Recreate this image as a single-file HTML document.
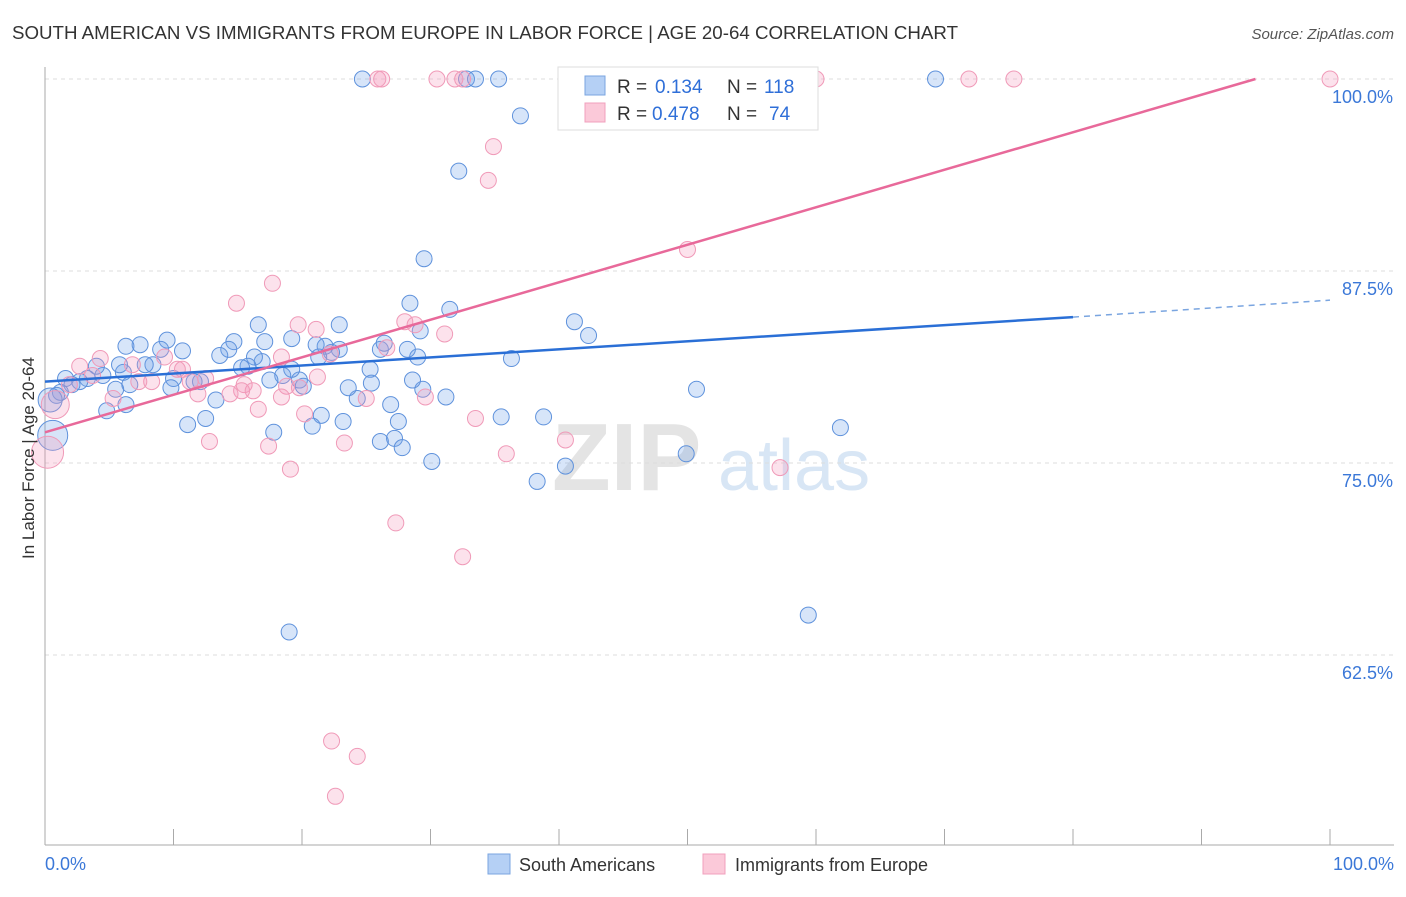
<!DOCTYPE html>
<html><head><meta charset="utf-8">
<style>
body{margin:0;background:#fff;font-family:"Liberation Sans",sans-serif}
svg text{font-family:"Liberation Sans",sans-serif}
</style></head>
<body>
<svg id="chart" width="1406" height="892" xmlns="http://www.w3.org/2000/svg">
<text x="12" y="39" font-size="18" fill="#333" textLength="946" lengthAdjust="spacingAndGlyphs">SOUTH AMERICAN VS IMMIGRANTS FROM EUROPE IN LABOR FORCE | AGE 20-64 CORRELATION CHART</text>
<text x="1394" y="39" font-size="15" fill="#555" text-anchor="end" font-style="italic">Source: ZipAtlas.com</text>
<g>
<text x="552" y="490" font-size="96" fill="#e4e4e4" font-family="Liberation Serif" font-weight="bold">ZIP</text>
<text x="718" y="490" font-size="72" fill="#d8e6f5">atlas</text>
</g>
<g id="grid"></g>
<g id="axes"></g>
<g id="points"></g>
<g id="lines"></g>
<text transform="translate(34,458) rotate(-90)" font-size="17" fill="#333" text-anchor="middle">In Labor Force | Age 20-64</text>
<g>
<rect x="558" y="67" width="260" height="63" fill="#fff" stroke="#ddd"/>
<rect x="585" y="76" width="20" height="19" fill="#b5d0f5" stroke="#7aa5e0"/>
<rect x="585" y="103" width="20" height="19" fill="#fbc9d9" stroke="#f0a0bd"/>
<text x="617" y="93" font-size="19" fill="#333">R =</text>
<text x="655" y="93" font-size="19" fill="#2f6fd8">0.134</text>
<text x="727" y="93" font-size="19" fill="#333">N =</text>
<text x="764" y="93" font-size="19" fill="#2f6fd8">118</text>
<text x="617" y="120" font-size="19" fill="#333">R =</text>
<text x="652" y="120" font-size="19" fill="#2f6fd8">0.478</text>
<text x="727" y="120" font-size="19" fill="#333">N =</text>
<text x="769" y="120" font-size="19" fill="#2f6fd8">74</text>
</g>
<g>
<rect x="488" y="854" width="22" height="20" fill="#b5d0f5" stroke="#7aa5e0"/>
<text x="519" y="871" font-size="18" fill="#333">South Americans</text>
<rect x="703" y="854" width="22" height="20" fill="#fbc9d9" stroke="#f0a0bd"/>
<text x="735" y="871" font-size="18" fill="#333">Immigrants from Europe</text>
</g>
</svg>
<script>
const yTicks=[100,87.5,75,62.5];
const yTickLabels=["100.0%","87.5%","75.0%","62.5%"];
const xTicks=[0,10,20,30,40,50,60,70,80,90,100];
const blueX=[24.7,32.8,33.5,35.3,69.3,37,32.2,29.5,28.4,31.5,41.2,42.3,36.3,50.7,61.9,59.4,19,49.9,40.5,38.3,30.1,38.8,35.5,31.2,29.4,28.6,29,28.2,26.1,27.2,27.8,27.5,26.9,25.3,25.4,24.3,23.6,23.2,21.5,20.8,22.9,22.9,22.3,21.8,21.3,19.8,20.1,19.2,18.5,17.5,17.8,19.2,17.1,16.6,16.9,16.3,15.8,15.3,14.7,14.3,13.6,13.3,12.5,12.1,11.6,11.1,10.7,10,9.8,9.5,9,8.4,7.8,7.4,6.3,6.1,6.6,5.8,5.5,4.8,6.3,4.5,4,3.3,2.7,2.1,1.6,1.2,0.9,0.6,0.4,29.2,26.1,26.4,21.1];
const blueY=[100,100,100,100,100,97.6,94,88.3,85.4,85,84.2,83.3,81.8,79.8,77.3,65.1,64,75.6,74.8,73.8,75.1,78,78,79.3,79.8,80.4,81.9,82.4,76.4,76.6,76,77.7,78.8,81.1,80.2,79.2,79.9,77.7,78.1,77.4,84,82.4,82.2,82.6,81.9,80.4,80,81.1,80.7,80.4,77,83.1,82.9,84,81.6,81.9,81.3,81.2,82.9,82.4,82,79.1,77.9,80.3,80.3,77.5,82.3,80.5,79.9,83,82.4,81.4,81.4,82.7,82.6,80.9,80.1,81.4,79.8,78.4,78.8,80.7,81.3,80.5,80.3,80.1,80.5,79.6,79.4,76.8,79.1,83.6,82.4,82.8,82.7];
const blueSize=blueX.map((v,i)=>i===89?15:(i===90?12:8));
const pinkX=[25.9,26.2,30.5,31.9,32.5,60,71.9,75.4,100,34.9,34.5,50,17.7,14.9,19.7,21.1,28,28.8,31.1,26.6,22.2,18.4,21.2,19.8,18.8,15.5,16.2,15.3,14.4,12.5,11.9,11.3,8.3,7.3,9.3,10.7,6.8,4.3,2.7,1.9,0.8,0.2,16.6,18.4,20.2,12.8,17.4,23.3,25,29.6,33.5,35.9,40.5,57.2,19.1,27.3,32.5,22.3,24.3,22.6,5.3,3.7,10.3];
const pinkY=[100,100,100,100,100,100,100,100,100,95.6,93.4,88.9,86.7,85.4,84,83.7,84.2,84,83.4,82.5,82.1,81.9,80.6,79.9,80,80.1,79.7,79.7,79.5,80.5,79.5,80.3,80.3,80.3,81.9,81.1,81.4,81.8,81.3,80.1,78.8,75.7,78.5,79.3,78.2,76.4,76.1,76.3,79.2,79.3,77.9,75.6,76.5,74.7,74.6,71.1,68.9,56.9,55.9,53.3,79.2,80.7,81.1];
const pinkSize=pinkX.map((v,i)=>i===40?14:(i===41?16:8));
const blueTrend=[[0,80.3],[80,84.5]];
const blueTrendExt=[[80,84.5],[100,85.6]];
const pinkTrend=[[0,77],[94.2,100]];
const NS="http://www.w3.org/2000/svg";
const X=v=>45+v*12.85;
const Y=v=>79+(100-v)*15.36;
function mk(tag,attrs,parent){const e=document.createElementNS(NS,tag);for(const k in attrs)e.setAttribute(k,attrs[k]);document.getElementById(parent).appendChild(e);return e;}
yTicks.forEach((t,i)=>{
 const g=mk('line',{x1:45,x2:1394,y1:Y(t),y2:Y(t),stroke:'#ddd','stroke-dasharray':'4,4'},'grid');
 
 
 const l=mk('text',{x:1393,y:Y(t)+24,'font-size':18,fill:'#3b78d8','text-anchor':'end'},'axes');
 l.textContent=yTickLabels[i];
 
 
});
const ax=mk('line',{x1:45,x2:1394,y1:845,y2:845,stroke:'#aaa'},'axes');


const ay=mk('line',{x1:45,x2:45,y1:67,y2:845,stroke:'#aaa'},'axes');


xTicks.forEach(t=>{
 const e=mk('line',{x1:X(t),x2:X(t),y1:829,y2:845,stroke:'#aaa'},'axes');
 
 
});
[[0,'0.0%',45,'start'],[100,'100.0%',1394,'end']].forEach(a=>{
 const e=mk('text',{x:a[2],y:870,'font-size':18,fill:'#3b78d8','text-anchor':a[3]},'axes');
 e.textContent=a[1];
 
 
});
blueX.forEach((v,i)=>{
 const c=mk('circle',{cx:X(v),cy:Y(blueY[i]),r:blueSize[i],fill:'rgba(110,160,235,0.28)',stroke:'#5f92dc','stroke-width':1},'points');
 
 
});
pinkX.forEach((v,i)=>{
 const c=mk('circle',{cx:X(v),cy:Y(pinkY[i]),r:pinkSize[i],fill:'rgba(245,150,185,0.28)',stroke:'#f09ab8','stroke-width':1},'points');
 
 
});
const b=mk('line',{x1:X(blueTrend[0][0]),y1:Y(blueTrend[0][1]),x2:X(blueTrend[1][0]),y2:Y(blueTrend[1][1]),stroke:'#2a6fd6','stroke-width':2.5},'lines');


const be=mk('line',{x1:X(blueTrendExt[0][0]),y1:Y(blueTrendExt[0][1]),x2:X(blueTrendExt[1][0]),y2:Y(blueTrendExt[1][1]),stroke:'#7aa5e0','stroke-width':1.5,'stroke-dasharray':'6,5'},'lines');


const p=mk('line',{x1:X(pinkTrend[0][0]),y1:Y(pinkTrend[0][1]),x2:X(pinkTrend[1][0]),y2:Y(pinkTrend[1][1]),stroke:'#e8699a','stroke-width':2.5},'lines');


</script>
</body></html>
